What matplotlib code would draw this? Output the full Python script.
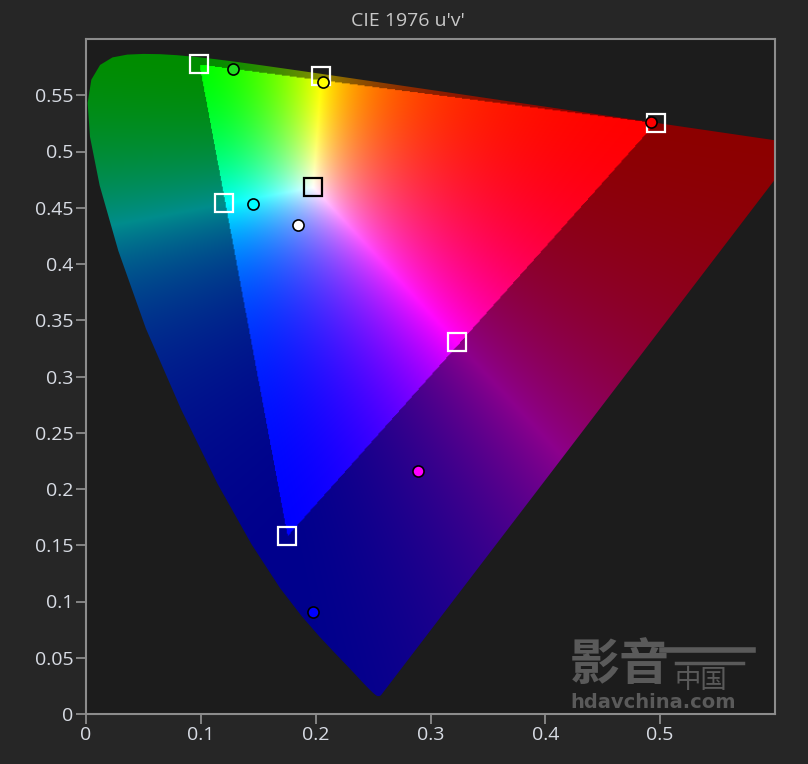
#!/usr/bin/env python3
"""CIE 1976 u'v' gamut chart."""
import matplotlib.pyplot as plt
import numpy as np
from matplotlib.lines import Line2D
from matplotlib.patches import Polygon

# CIE 1931 2 deg spectral locus (x, y), 380..700 nm
spectral_x = [0.1741, 0.1740, 0.1738, 0.1736, 0.1733, 0.1730, 0.1726, 0.1721,
              0.1714, 0.1703, 0.1689, 0.1669, 0.1644, 0.1611, 0.1566, 0.1510,
              0.1440, 0.1355, 0.1241, 0.1096, 0.0913, 0.0687, 0.0454, 0.0235,
              0.0082, 0.0039, 0.0139, 0.0389, 0.0743, 0.1142, 0.1547, 0.1929,
              0.2296, 0.2658, 0.3016, 0.3373, 0.3731, 0.4087, 0.4441, 0.4788,
              0.5125, 0.5448, 0.5752, 0.6029, 0.6270, 0.6482, 0.6658, 0.6801,
              0.6915, 0.7006, 0.7079, 0.7140, 0.7190, 0.7230, 0.7260, 0.7283,
              0.7300, 0.7311, 0.7320, 0.7327, 0.7334, 0.7344, 0.7347]
spectral_y = [0.0050, 0.0050, 0.0049, 0.0049, 0.0048, 0.0048, 0.0048, 0.0048,
              0.0051, 0.0058, 0.0069, 0.0086, 0.0109, 0.0138, 0.0177, 0.0227,
              0.0297, 0.0399, 0.0578, 0.0868, 0.1327, 0.2007, 0.2950, 0.4127,
              0.5384, 0.6548, 0.7502, 0.8120, 0.8338, 0.8262, 0.8059, 0.7816,
              0.7543, 0.7243, 0.6923, 0.6589, 0.6245, 0.5896, 0.5547, 0.5202,
              0.4866, 0.4544, 0.4242, 0.3965, 0.3725, 0.3514, 0.3340, 0.3197,
              0.3083, 0.2993, 0.2920, 0.2859, 0.2809, 0.2770, 0.2740, 0.2717,
              0.2700, 0.2689, 0.2680, 0.2673, 0.2666, 0.2656, 0.2653]

# targets (squares): R, G, B, Y, C, M, W
target_u = [0.4964, 0.0986, 0.1754, 0.2050, 0.1204, 0.3230, 0.1978]
target_v = [0.5256, 0.5777, 0.1579, 0.5670, 0.4546, 0.3310, 0.4683]
target_edge = ["white", "white", "white", "white", "white", "white", "black"]

# measured (circles)
meas_u = [0.4920, 0.1283, 0.1980, 0.2060, 0.1457, 0.2888, 0.1850]
meas_v = [0.5260, 0.5730, 0.0907, 0.5620, 0.4537, 0.2162, 0.4350]
meas_color = ["#ff0000", "#22dd22", "#0000ff", "#ffff00", "#00ffff", "#ff00ff", "#ffffff"]

# P3-D65 XYZ -> RGB
M = np.array([[2.4934969, -0.9313836, -0.4027108],
              [-0.8294890, 1.7626641, 0.0236247],
              [0.0358458, -0.0761724, 0.9568845]])

BG = "#262626"
FACE = "#1c1c1c"
FG = "#d8dce4"
SPINE = "#8c8c8c"

fig = plt.figure(figsize=(8.08, 7.64), dpi=100, facecolor=BG)
ax = fig.add_axes([86 / 808, 1 - 714 / 764, 689 / 808, 675 / 764])
ax.set_facecolor(FACE)

# background colour image
n = 700
uu, vv = np.meshgrid(np.linspace(0, 0.6, n), np.linspace(0, 0.6, n))
vv = np.maximum(vv, 1e-4)
d = 6 * uu - 16 * vv + 12
cx = 9 * uu / d
cy = 4 * vv / d
XYZ = np.stack([cx / cy, np.ones_like(cx), (1 - cx - cy) / cy], axis=-1)
rgb = XYZ @ M.T
inside = np.all(rgb >= 0, axis=-1)
rgb = np.clip(rgb, 0, None)
rgb = rgb / np.max(rgb, axis=-1, keepdims=True)
rgb = rgb ** 1.4
rgb[~inside] *= 0.55

sx = np.array(spectral_x)
sy = np.array(spectral_y)
sd = -2 * sx + 12 * sy + 3
locus_u = 4 * sx / sd
locus_v = 9 * sy / sd
locus = Polygon(np.column_stack([locus_u, locus_v]), closed=True, transform=ax.transData)

im = ax.imshow(rgb, origin="lower", extent=[0, 0.6, 0, 0.6], interpolation="bilinear", zorder=1)
im.set_clip_path(locus)

for u, v, ec in zip(target_u, target_v, target_edge):
    ax.plot(u, v, linestyle="none", marker="s", markersize=13, markerfacecolor="none",
            markeredgecolor=ec, markeredgewidth=1.6, zorder=3)
for u, v, c in zip(meas_u, meas_v, meas_color):
    ax.plot(u, v, linestyle="none", marker="o", markersize=8, markerfacecolor=c,
            markeredgecolor="black", markeredgewidth=1.2, zorder=4)

ax.set_xlim(0, 0.6)
ax.set_ylim(0, 0.6)
ax.set_aspect("auto")
ax.set_xticks([0, 0.1, 0.2, 0.3, 0.4, 0.5])
ax.set_xticklabels(["0", "0.1", "0.2", "0.3", "0.4", "0.5"])
yt = [0, 0.05, 0.1, 0.15, 0.2, 0.25, 0.3, 0.35, 0.4, 0.45, 0.5, 0.55]
ax.set_yticks(yt)
ax.set_yticklabels(["0", "0.05", "0.1", "0.15", "0.2", "0.25", "0.3", "0.35",
                    "0.4", "0.45", "0.5", "0.55"])
ax.tick_params(colors=SPINE, labelcolor=FG, labelsize=14, length=7, width=1.3,
               direction="out", pad=2)
for lbl in ax.get_xticklabels() + ax.get_yticklabels():
    lbl.set_fontfamily("Open Sans")
for sp in ax.spines.values():
    sp.set_color(SPINE)
    sp.set_linewidth(1.5)

fig.text(408 / 808, 1 - 21 / 764, "CIE 1976 u'v'", color="#c8c8c8", fontsize=14,
         fontfamily="Open Sans", ha="center", va="center")

# watermark
WM = "#5a5a5a"
cjk = ["Noto Sans CJK SC", "DejaVu Sans"]
fig.text(570 / 808, 1 - 665 / 764, "影音", color=WM, fontsize=36, fontweight="bold",
         fontfamily=cjk, ha="left", va="center", zorder=5)
fig.text(674 / 808, 1 - 681 / 764, "中国", color=WM, fontsize=19,
         fontfamily=cjk, ha="left", va="center", zorder=5)
fig.text(570 / 808, 1 - 708 / 764, "hdavchina.com", color=WM, fontsize=14,
         fontweight="bold", fontfamily="DejaVu Sans", ha="left", va="baseline", zorder=5)
fig.add_artist(Line2D([662 / 808, 753 / 808], [1 - 650 / 764] * 2, color=WM, linewidth=4))
fig.add_artist(Line2D([676 / 808, 743 / 808], [1 - 663 / 764] * 2, color=WM, linewidth=2.5))

fig.savefig("out.png", dpi=100, facecolor=BG)
